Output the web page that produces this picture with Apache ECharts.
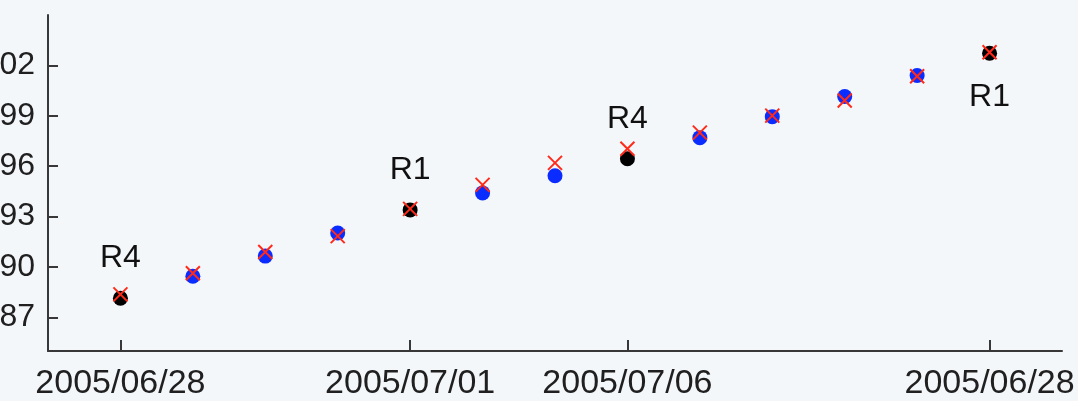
<!doctype html>
<html lang="en">
<head>
    <meta charset="utf-8">
    <title>Scatter R1 R4</title>
    <script src="https://cdn.jsdelivr.net/npm/echarts@6/dist/echarts.min.js"></script>
    <style>
        html, body { margin: 0; padding: 0; background: #f4f7fa; }
        #mychart { width: 1078px; height: 401px; }
    </style>
</head>
<body>
    <div id="mychart"></div>

    <script type="text/javascript">
        // x tick positions and their date labels
        var tickIdx = [0, 4, 7, 12];
        var tickLabels = ['2005/06/28', '2005/07/01', '2005/07/06', '2005/06/28'];
        var yTicks = [87, 90, 93, 96, 99, 102];

        // circle markers (black at reference points, blue elsewhere)
        var circleVals = [88.14, 89.45, 90.65, 92.02, 93.40, 94.41, 95.43, 96.44, 97.70, 98.95, 100.15, 101.40, 102.72];
        // red crosses
        var crossVals = [88.37, 89.63, 90.89, 91.84, 93.46, 94.89, 96.20, 97.04, 98.00, 99.01, 99.91, 101.35, 102.78];
        // reference points
        var refIdx = [0, 4, 7, 12];
        var refNames = ['R4', 'R1', 'R4', 'R1'];

        var blueData = [];
        var blackData = [];
        var crossData = [];
        for (let i = 0; i < circleVals.length; i++) {
            let k = refIdx.indexOf(i);
            if (k < 0) {
                blueData.push([i, circleVals[i]]);
            } else {
                let last = (i == circleVals.length - 1);
                blackData.push({
                    value: [i, circleVals[i]],
                    label: { formatter: refNames[k], offset: [0, last ? 44 : -40] }
                });
            }
            crossData.push([i, crossVals[i]]);
        }

        var axisColor = '#383838';
        var txtColor = '#202020';

        var myChart = echarts.init(document.getElementById('mychart'));
        var option = {
            backgroundColor: '#f4f7fa',
            animation: false,
            grid: { left: 48, right: 16, top: 15, bottom: 50, containLabel: false, outerBoundsMode: 'none' },
            xAxis: {
                type: 'value',
                min: -1,
                max: 13,
                interval: 1,
                splitLine: { show: false },
                axisLine: { onZero: false, lineStyle: { color: axisColor, width: 2 } },
                axisTick: { inside: true, length: 11, customValues: tickIdx, lineStyle: { color: axisColor, width: 2 } },
                axisLabel: {
                    customValues: tickIdx,
                    formatter: function (v) {
                        let k = tickIdx.indexOf(v);
                        return k < 0 ? '' : tickLabels[k];
                    },
                    color: txtColor,
                    fontSize: 34,
                    fontFamily: 'Liberation Sans',
                    margin: 16
                }
            },
            yAxis: {
                type: 'value',
                min: 85,
                max: 105,
                splitLine: { show: false },
                axisLine: { show: true, onZero: false, lineStyle: { color: axisColor, width: 2 } },
                axisTick: { show: true, inside: true, length: 10, customValues: yTicks, lineStyle: { color: axisColor, width: 2 } },
                axisLabel: {
                    customValues: yTicks,
                    color: txtColor,
                    fontSize: 32,
                    fontFamily: 'Liberation Sans',
                    margin: 13
                }
            },
            series: [
                {
                    type: 'scatter',
                    symbol: 'circle',
                    symbolSize: 15,
                    itemStyle: { color: '#0a2cff', opacity: 1 },
                    data: blueData
                },
                {
                    type: 'scatter',
                    symbol: 'circle',
                    symbolSize: 15,
                    itemStyle: { color: '#000000', opacity: 1 },
                    label: {
                        show: true,
                        position: 'inside',
                        color: '#111111',
                        fontSize: 32,
                        fontFamily: 'Liberation Sans'
                    },
                    data: blackData
                },
                {
                    type: 'scatter',
                    symbol: 'path://M0,0 L20,20 M20,0 L0,20',
                    symbolSize: 14,
                    itemStyle: { color: 'transparent', borderColor: '#ff2a1a', borderWidth: 2, opacity: 1 },
                    data: crossData
                }
            ]
        };
        myChart.setOption(option);
    </script>
</body>
</html>
